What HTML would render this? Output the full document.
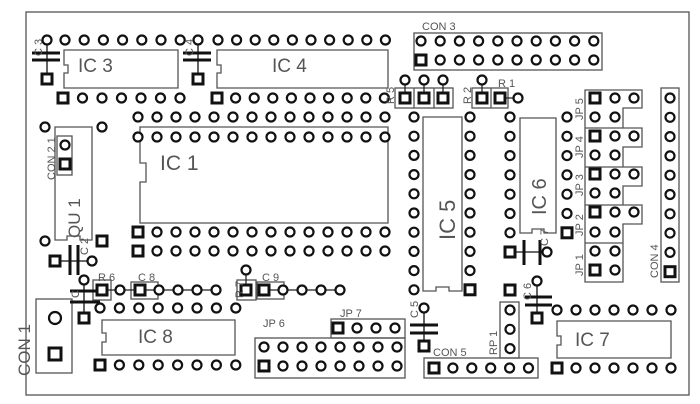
<!DOCTYPE html>
<html><head><meta charset="utf-8"><style>
html,body{margin:0;padding:0;background:#fff;}
svg{display:block;}
text{font-family:"Liberation Sans",sans-serif;fill:#555;}
</style></head><body>
<svg id="s" width="700" height="404" viewBox="0 0 700 404" xmlns="http://www.w3.org/2000/svg">
<g fill="none" stroke="#555" stroke-width="1.3">
<rect x="26" y="12" width="663" height="383"/>
<path d="M64,50 H178 V88 H64 V73 H68 V65 H64 Z"/>
<path d="M217,50 H388 V88 H217 V73 H221 V65 H217 Z"/>
<path d="M140,127 H388 V223 H140 V182 H146 V163 H140 Z"/>
<path d="M102,320 H235 V355 H102 V342 H106 V333 H102 Z"/>
<path d="M557,321 H671 V358 H557 V345 H561 V336 H557 Z"/>
<path d="M423,117 H462 V291 H449 V287 H436 V291 H423 Z"/>
<path d="M520,118 H556 V233 H544 V229 H532 V233 H520 Z"/>
<path d="M55,127 H92 V240 H80 V236 H67 V240 H55 Z"/>
<rect x="57" y="136" width="15" height="39"/>
<rect x="414" y="33" width="188" height="37"/>
<rect x="395" y="88" width="58" height="20"/>
<line x1="414" y1="88" x2="414" y2="108"/><line x1="434" y1="88" x2="434" y2="108"/>
<rect x="472" y="88" width="36" height="20"/><line x1="491" y1="88" x2="491" y2="108"/>
<path d="M585,90 H642 V108 H623 V128 H642 V147 H623 V167 H642 V186 H623 V205 H642 V224 H623 V282 H585 Z"/>
<line x1="585" y1="128" x2="623" y2="128"/><line x1="585" y1="167" x2="623" y2="167"/><line x1="585" y1="205" x2="623" y2="205"/><line x1="585" y1="243" x2="623" y2="243"/>
<rect x="661" y="88" width="18" height="194"/>
<rect x="424" y="358" width="114" height="20"/>
<rect x="500" y="302" width="19" height="56"/>
<rect x="331" y="319" width="74" height="19"/>
<rect x="255" y="338" width="150" height="40"/>
<rect x="36" y="299" width="36" height="74"/>
<rect x="93" y="280" width="18" height="20"/>
<rect x="131" y="282" width="27" height="17"/>
<rect x="237" y="280" width="19" height="20"/>
<rect x="257" y="282" width="27" height="17"/>
</g>
<g stroke="#222" stroke-width="1.3">
<line x1="102" y1="290" x2="216" y2="290"/>
<line x1="246" y1="270" x2="246" y2="290"/>
<line x1="264" y1="290" x2="340" y2="290"/>
<line x1="500" y1="98" x2="518" y2="98"/>
<line x1="482" y1="80" x2="482" y2="98"/>
<line x1="405" y1="80" x2="405" y2="98"/><line x1="424" y1="80" x2="424" y2="98"/><line x1="443" y1="80" x2="443" y2="98"/>
</g>
<g stroke="#111" stroke-width="3">
<line x1="32" y1="53" x2="60" y2="53"/><line x1="32" y1="60" x2="60" y2="60"/>
<line x1="183" y1="53" x2="211" y2="53"/><line x1="183" y1="60" x2="211" y2="60"/>
<line x1="70" y1="245" x2="70" y2="275"/><line x1="78" y1="245" x2="78" y2="275"/>
<line x1="70" y1="291" x2="100" y2="291"/><line x1="70" y1="302" x2="100" y2="302"/>
<line x1="410" y1="325" x2="438" y2="325"/><line x1="410" y1="333" x2="438" y2="333"/>
<line x1="525" y1="297" x2="552" y2="297"/><line x1="525" y1="305" x2="552" y2="305"/>
<line x1="524" y1="240" x2="524" y2="265"/><line x1="540" y1="240" x2="540" y2="265"/>
</g>
<g stroke="#111" stroke-width="1.3">
<line x1="47" y1="40" x2="47" y2="79"/><line x1="198" y1="40" x2="198" y2="79"/>
<line x1="55" y1="261" x2="92" y2="261"/><line x1="84" y1="280" x2="84" y2="318"/>
<line x1="424" y1="308" x2="424" y2="346"/><line x1="537" y1="281" x2="537" y2="318"/>
<line x1="510" y1="252" x2="547" y2="252"/>
</g>
<g id="pads"></g>
<g>
<text x="78" y="72" font-size="19">IC 3</text>
<text x="272" y="72" font-size="19">IC 4</text>
<text x="160" y="170" font-size="21">IC 1</text>
<text x="138" y="343" font-size="19">IC 8</text>
<text x="575" y="346" font-size="19">IC 7</text>
<text x="422" y="30" font-size="11">CON 3</text>
<text x="433" y="356" font-size="11">CON 5</text>
<text x="340" y="317" font-size="11">JP 7</text>
<text x="263" y="327" font-size="11">JP 6</text>
<text x="98" y="281" font-size="11">R 6</text>
<text x="138" y="281" font-size="11">C 8</text>
<text x="262" y="281" font-size="11">C 9</text>
<text x="498" y="87" font-size="11">R 1</text>
<text transform="translate(42,56) rotate(-90)" font-size="11">C 3</text>
<text transform="translate(193,56) rotate(-90)" font-size="11">C 4</text>
<text transform="translate(55,180) rotate(-90)" font-size="11">CON 2 1</text>
<text transform="translate(80,238) rotate(-90)" font-size="17">QU 1</text>
<text transform="translate(30,376) rotate(-90)" font-size="17">CON 1</text>
<text transform="translate(79,298) rotate(-90)" font-size="11">C</text>
<text transform="translate(88,255) rotate(-90)" font-size="11">C 2</text>
<text transform="translate(243,298) rotate(-90)" font-size="11">R 7</text>
<text transform="translate(455,240) rotate(-90)" font-size="22">IC 5</text>
<text transform="translate(546,215) rotate(-90)" font-size="20">IC 6</text>
<text transform="translate(418,318) rotate(-90)" font-size="11">C 5</text>
<text transform="translate(531,300) rotate(-90)" font-size="11">C 6</text>
<text transform="translate(548,246) rotate(-90)" font-size="11">C 7</text>
<text transform="translate(497,355) rotate(-90)" font-size="11">RP 1</text>
<text transform="translate(471,104) rotate(-90)" font-size="11">R 2</text>
<text transform="translate(394,104) rotate(-90)" font-size="11">R 5</text>
<text transform="translate(583,120) rotate(-90)" font-size="11">JP 5</text>
<text transform="translate(583,158) rotate(-90)" font-size="11">JP 4</text>
<text transform="translate(583,196) rotate(-90)" font-size="11">JP 3</text>
<text transform="translate(583,236) rotate(-90)" font-size="11">JP 2</text>
<text transform="translate(583,276) rotate(-90)" font-size="11">JP 1</text>
<text transform="translate(658,278) rotate(-90)" font-size="11">CON 4</text>
</g>
</svg>
<script>
var g=document.getElementById('pads'),NS='http://www.w3.org/2000/svg';
function c(x,y,r){r=r||4.5;var e=document.createElementNS(NS,'circle');e.setAttribute('cx',x);e.setAttribute('cy',y);e.setAttribute('r',r);e.setAttribute('fill','#fff');e.setAttribute('stroke','#111');e.setAttribute('stroke-width','2.2');g.appendChild(e);}
function q(x,y,s){s=s||10;var e=document.createElementNS(NS,'rect');e.setAttribute('x',x-s/2);e.setAttribute('y',y-s/2);e.setAttribute('width',s);e.setAttribute('height',s);e.setAttribute('fill','#fff');e.setAttribute('stroke','#111');e.setAttribute('stroke-width','3');g.appendChild(e);}
function row(x0,y,n,dx,sq){for(var i=0;i<n;i++){var x=x0+i*dx;if(sq&&i==0)q(x,y);else c(x,y);}}
function col(x,y0,n,dy,sqLast,sqFirst){for(var i=0;i<n;i++){var y=y0+i*dy;if((sqLast&&i==n-1)||(sqFirst&&i==0))q(x,y);else c(x,y);}}
c(47,40);q(47,79);row(65,40,7,19.2);row(63,98,7,19.5,1);
c(198,40);q(198,79);row(218,40,10,18.6);row(217,98,10,18.6,1);
row(138,117,14,19);row(138,137,14,19);row(138,232,14,19,1);row(138,251,14,19,1);
row(421,41,10,19.2);row(421,60,10,19.2,1);
c(405,80);c(424,80);c(443,80);q(405,98);q(424,98);q(443,98);
c(482,80);q(482,98);q(500,98);c(518,98);
col(414,117,10,19.2);col(470,117,10,19.2,1);
col(510,117,7,19.3);col(567,117,7,19.3,1);
q(510,252);c(547,252);
q(595,98);c(615,98);c(634,98);c(595,117);c(615,117);
q(595,136);c(615,136);c(634,136);c(595,155);c(615,155);
q(595,174);c(615,174);c(634,174);c(595,193);c(615,193);
q(595,212);c(615,212);c(634,212);c(595,232);c(615,232);
c(595,251);c(615,251);q(595,270);c(615,270);
col(670,98,10,19.3,1);
row(557,310,7,19);row(557,368,7,19,1);
row(434,368,6,18.9,1);
q(510,290);col(510,310,3,19.3);
c(424,308);q(424,346);c(537,281);q(537,318);
row(338,328,4,19,1);row(264,347,8,19);row(264,366,8,19,1);
row(100,308,8,19.4);row(100,365,8,19.4,1);
q(102,290);c(120,290);q(140,290);c(159,290);c(178,290);c(197,290);c(216,290);
c(246,270);q(246,290);q(264,290);c(283,290);c(302,290);c(321,290);c(340,290);
c(55,318,6);q(55,354,12);
c(45,241);q(102,241);q(55,261);c(92,261);c(84,280);q(84,318);
c(45,127);c(102,127);c(65,145);q(65,164);
</script>
</body></html>
